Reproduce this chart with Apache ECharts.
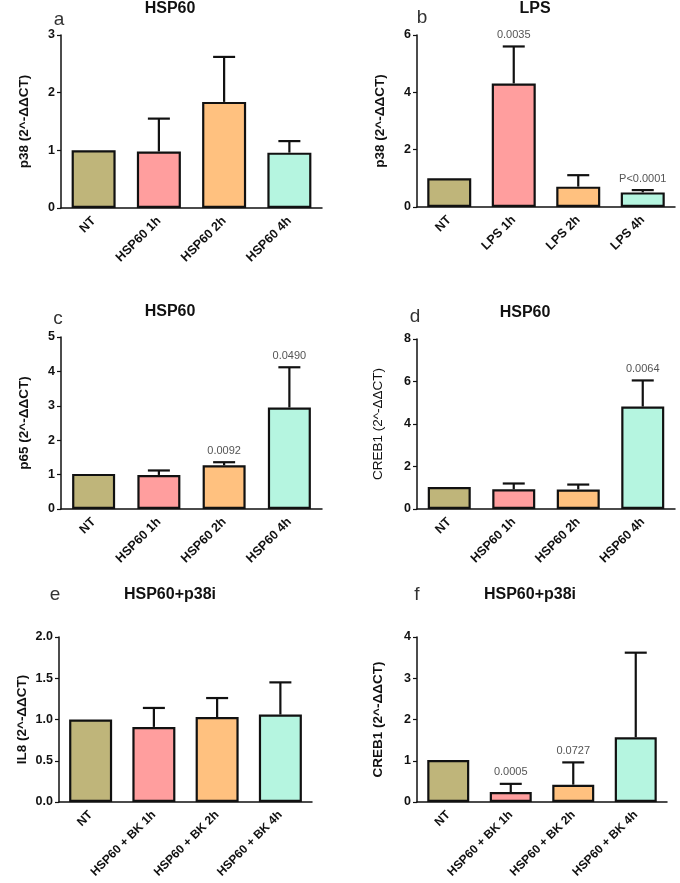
<!DOCTYPE html>
<html>
<head>
<meta charset="utf-8">
<script src="https://cdn.jsdelivr.net/npm/echarts@6/dist/echarts.min.js"></script>
<style>
html,body{margin:0;padding:0;background:#fff;}
#c{width:680px;height:883px;}
</style>
</head>
<body>
<div id="c"></div>
<script>
// ---- data ----
const catsHSP = ['NT', 'HSP60 1h', 'HSP60 2h', 'HSP60 4h'];
const catsLPS = ['NT', 'LPS 1h', 'LPS 2h', 'LPS 4h'];
const catsBK = ['NT', 'HSP60 + BK 1h', 'HSP60 + BK 2h', 'HSP60 + BK 4h'];

const meanA = [1.0, 0.98, 1.84, 0.96];
const errTopA = [null, 1.55, 2.62, 1.16];
const pA = ['', '', '', ''];

const meanB = [1.0, 4.31, 0.71, 0.51];
const errTopB = [null, 5.60, 1.11, 0.59];
const pB = ['', '0.0035', '', 'P<0.0001'];

const meanC = [1.02, 0.99, 1.27, 2.95];
const errTopC = [null, 1.12, 1.36, 4.12];
const pC = ['', '', '0.0092', '0.0490'];

const meanD = [1.03, 0.93, 0.92, 4.82];
const errTopD = [null, 1.20, 1.15, 6.05];
const pD = ['', '', '', '0.0064'];

const meanE = [1.0, 0.91, 1.03, 1.06];
const errTopE = [null, 1.14, 1.26, 1.45];
const pE = ['', '', '', ''];

const meanF = [1.02, 0.24, 0.42, 1.57];
const errTopF = [null, 0.44, 0.96, 3.62];
const pF = ['', '0.0005', '0.0727', ''];

const yTicksA = [0, 3, 1];
const yTicksB = [0, 6, 2];
const yTicksC = [0, 5, 1];
const yTicksD = [0, 8, 2];
const yTicksE = [0, 2, 0.5];
const yTicksF = [0, 4, 1];

const barColors = ['#BFB57A', '#FF9E9E', '#FFC17F', '#B5F5E0'];
const FONT = '"Liberation Sans", Arial, sans-serif';

const panels = [
  {cats: catsHSP, mean: meanA, top: errTopA, p: pA, yt: yTicksA, yname: 'p38 (2^-ΔΔCT)', bold: true,
   grid: {left: 61, top: 35, width: 261, height: 173}, barW: 44, title: 'HSP60', tx: 170, ty: 9, letter: 'a', lx: 59, ly: 20, gap: 30, dec: 0, xfs: 12.5},
  {cats: catsLPS, mean: meanB, top: errTopB, p: pB, yt: yTicksB, yname: 'p38 (2^-ΔΔCT)', bold: true,
   grid: {left: 417, top: 35, width: 258, height: 172}, barW: 44, title: 'LPS', tx: 535, ty: 9, letter: 'b', lx: 422, ly: 18, gap: 30, dec: 0, xfs: 12.5},
  {cats: catsHSP, mean: meanC, top: errTopC, p: pC, yt: yTicksC, yname: 'p65 (2^-ΔΔCT)', bold: true,
   grid: {left: 61, top: 337, width: 261, height: 172}, barW: 43, title: 'HSP60', tx: 170, ty: 312, letter: 'c', lx: 58, ly: 319, gap: 30, dec: 0, xfs: 12.5},
  {cats: catsHSP, mean: meanD, top: errTopD, p: pD, yt: yTicksD, yname: 'CREB1 (2^-ΔΔCT)', bold: false,
   grid: {left: 417, top: 339, width: 258, height: 170}, barW: 43, title: 'HSP60', tx: 525, ty: 313, letter: 'd', lx: 415, ly: 317, gap: 32, dec: 0, xfs: 12.5},
  {cats: catsBK, mean: meanE, top: errTopE, p: pE, yt: yTicksE, yname: 'IL8 (2^-ΔΔCT)', bold: true,
   grid: {left: 59, top: 637, width: 253, height: 165}, barW: 43, title: 'HSP60+p38i', tx: 170, ty: 595, letter: 'e', lx: 55, ly: 595, gap: 30, dec: 1, xfs: 12},
  {cats: catsBK, mean: meanF, top: errTopF, p: pF, yt: yTicksF, yname: 'CREB1 (2^-ΔΔCT)', bold: true,
   grid: {left: 417, top: 637, width: 250, height: 165}, barW: 42, title: 'HSP60+p38i', tx: 530, ty: 595, letter: 'f', lx: 417, ly: 595, gap: 32, dec: 0, xfs: 12}
];

const grid = [], xAxis = [], yAxis = [], series = [], graphic = [];
panels.forEach((pn, i) => {
  grid.push(Object.assign({containLabel: false}, pn.grid));
  xAxis.push({
    type: 'category', gridIndex: i, data: pn.cats,
    axisLine: {lineStyle: {color: '#111', width: 1.5}},
    axisTick: {alignWithLabel: true, length: 5, lineStyle: {color: '#111', width: 1.2}},
    axisLabel: {rotate: 45, interval: 0, margin: 11, color: '#111', fontWeight: 'bold', fontSize: pn.xfs, fontFamily: FONT}
  });
  yAxis.push({
    type: 'value', gridIndex: i, min: pn.yt[0], max: pn.yt[1], interval: pn.yt[2],
    name: pn.yname, nameLocation: 'middle', nameGap: pn.gap, nameRotate: 90,
    nameTextStyle: {color: '#111', fontWeight: pn.bold ? 'bold' : 'normal', fontSize: 13.5, fontFamily: FONT},
    axisLine: {show: true, lineStyle: {color: '#111', width: 1.5}},
    axisTick: {show: true, length: 4, lineStyle: {color: '#111', width: 1.2}},
    splitLine: {show: false},
    axisLabel: {color: '#111', fontWeight: 'bold', fontSize: 12.5, margin: 6, fontFamily: FONT,
      formatter: v => v.toFixed(pn.dec)}
  });
  series.push({
    type: 'bar', xAxisIndex: i, yAxisIndex: i, barWidth: pn.barW,
    data: pn.mean.map((v, k) => ({value: v, itemStyle: {color: barColors[k]}})),
    itemStyle: {borderColor: '#111', borderWidth: 2.2},
    z: 3
  });
  series.push({
    type: 'custom', xAxisIndex: i, yAxisIndex: i, z: 2,
    encode: {x: 0, y: [1, 2]},
    data: pn.mean.map((v, k) => [k, v, pn.top[k] == null ? v : pn.top[k], pn.p[k]]),
    renderItem: function (params, api) {
      const k = api.value(0);
      const base = api.coord([k, api.value(1)]);
      const topPt = api.coord([k, api.value(2)]);
      const label = pn.p[k];
      const children = [];
      if (pn.top[k] != null) {
        children.push({type: 'line', shape: {x1: base[0], y1: base[1], x2: topPt[0], y2: topPt[1]},
          style: {stroke: '#111', lineWidth: 2.2}});
        children.push({type: 'line', shape: {x1: topPt[0] - 11, y1: topPt[1], x2: topPt[0] + 11, y2: topPt[1]},
          style: {stroke: '#111', lineWidth: 2.2}});
      }
      if (label) {
        children.push({type: 'text', x: topPt[0], y: topPt[1] - 6,
          style: {text: label, textAlign: 'center', textVerticalAlign: 'bottom', fill: '#555', fontSize: 11, fontFamily: FONT}});
      }
      return {type: 'group', children: children};
    }
  });
  graphic.push({type: 'text', x: pn.tx, y: pn.ty,
    style: {text: pn.title, textAlign: 'center', textVerticalAlign: 'middle', fill: '#111', fontWeight: 'bold', fontSize: 16, fontFamily: FONT}});
  graphic.push({type: 'text', x: pn.lx, y: pn.ly,
    style: {text: pn.letter, textAlign: 'center', textVerticalAlign: 'middle', fill: '#333', fontSize: 19, fontFamily: FONT}});
});

const chart = echarts.init(document.getElementById('c'), null, {renderer: 'canvas'});
chart.setOption({
  animation: false,
  backgroundColor: '#fff',
  grid, xAxis, yAxis, series, graphic
});
</script>
</body>
</html>
